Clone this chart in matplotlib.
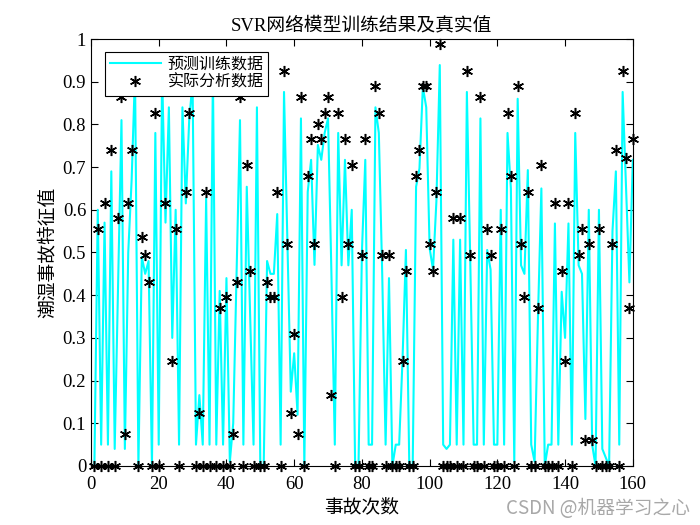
import numpy as np
import matplotlib
matplotlib.use("Agg")
import matplotlib.pyplot as plt

plt.rcParams['font.family'] = ['Liberation Serif', 'Noto Sans CJK SC']
plt.rcParams['axes.unicode_minus'] = False

# 实际分析数据 (sample 1..160)
actual = [
    0, 0.556, 0, 0.617, 0, 0.741, 0, 0.580, 0.864, 0.074,
    0.617, 0.741, 0.926, 0, 0.536, 0.494, 0.432, 0, 0.827, 0,
    0.926, 0.617, 0.926, 0.247, 0.556, 0, 0.926, 0.642, 0.827, 0.926,
    0, 0.123, 0, 0.642, 0, 0.926, 0, 0.370, 0, 0.395,
    0, 0.074, 0.432, 0.864, 0, 0.704, 0.457, 0, 0.926, 0,
    0, 0.432, 0.395, 0.395, 0.642, 0, 0.926, 0.519, 0.123, 0.309,
    0.074, 0.864, 0, 0.679, 0.765, 0.519, 0.802, 0.765, 0.827, 0.864,
    0.167, 0, 0.827, 0.395, 0.765, 0.519, 0.704, 0, 0, 0.494,
    0.765, 0, 0, 0.889, 0.827, 0.494, 0, 0.494, 0, 0,
    0, 0.247, 0.457, 0, 0, 0.679, 0.741, 0.889, 0.889, 0.519,
    0.457, 0.642, 0.988, 0, 0, 0, 0.580, 0, 0.580, 0,
    0.926, 0.494, 0, 0, 0.864, 0, 0.556, 0.494, 0, 0,
    0.556, 0, 0.827, 0.679, 0, 0.889, 0.519, 0.395, 0.642, 0,
    0, 0.370, 0.704, 0, 0, 0, 0.617, 0, 0.457, 0.247,
    0.617, 0, 0.827, 0.494, 0.556, 0.062, 0.519, 0.062, 0, 0.556,
    0, 0, 0, 0.519, 0.741, 0, 0.926, 0.722, 0.370, 0.765,
]

# 预测训练数据
predicted = [
    0.0, 0.60, 0.05, 0.57, 0.05, 0.69, 0.04, 0.42, 0.81, 0.04,
    0.50, 0.67, 0.92, 0.0, 0.49, 0.45, 0.48, 0.0, 0.78, 0.05,
    0.92, 0.57, 0.84, 0.30, 0.60, 0.05, 0.84, 0.615, 0.81, 0.90,
    0.05, 0.166, 0.05, 0.627, 0.05, 0.92, 0.05, 0.41, 0.05, 0.44,
    0.01, 0.10, 0.45, 0.81, 0.05, 0.654, 0.35, 0.05, 0.84, 0.0,
    0.0, 0.48, 0.45, 0.45, 0.59, 0.05, 0.876, 0.52, 0.174, 0.264,
    0.12, 0.814, 0.0, 0.642, 0.717, 0.471, 0.752, 0.717, 0.78, 0.814,
    0.45, 0.05, 0.78, 0.47, 0.717, 0.47, 0.60, 0.0, 0.0, 0.50,
    0.717, 0.05, 0.05, 0.84, 0.78, 0.45, 0.05, 0.44, 0.0, 0.05,
    0.05, 0.25, 0.506, 0.0, 0.0, 0.654, 0.697, 0.888, 0.84, 0.51,
    0.46, 0.62, 0.939, 0.05, 0.04, 0.05, 0.53, 0.05, 0.53, 0.05,
    0.876, 0.48, 0.05, 0.05, 0.814, 0.05, 0.506, 0.46, 0.05, 0.05,
    0.60, 0.05, 0.78, 0.65, 0.01, 0.86, 0.47, 0.45, 0.693, 0.05,
    0.01, 0.35, 0.65, 0.0, 0.05, 0.05, 0.568, 0.05, 0.408, 0.30,
    0.568, 0.05, 0.78, 0.47, 0.45, 0.11, 0.60, 0.05, 0.0, 0.60,
    0.04, 0.02, 0.0, 0.55, 0.69, 0.05, 0.876, 0.65, 0.43, 0.717,
]

x = np.arange(1, len(actual) + 1)

fig = plt.figure(figsize=(7, 5.25), dpi=100)
ax = fig.add_axes([0.13, 0.1124, 0.774, 0.8133])

ax.plot(x, predicted, color='#00FFFF', lw=1.5, label='预测训练数据')
ax.plot(x, actual, ls='none', marker=(6, 2, 0), ms=8, mew=1.1,
        color='black', label='实际分析数据', clip_on=False)

ax.set_xlim(0, 160)
ax.set_ylim(0, 1)
ax.set_xticks(np.arange(0, 161, 20))
ax.set_yticks(np.arange(0, 1.01, 0.1))
ax.set_yticklabels(['0', '0.1', '0.2', '0.3', '0.4', '0.5', '0.6', '0.7', '0.8', '0.9', '1'])
ax.tick_params(direction='in', top=True, right=True, labelsize=13.5, length=5, width=0.8)
ax.tick_params(axis='x', pad=7)
for s in ax.spines.values():
    s.set_linewidth(0.8)

ax.set_title('SVR网络模型训练结果及真实值', fontsize=13.5)
ax.set_xlabel('事故次数', fontsize=13.5, labelpad=4)
ax.set_ylabel('潮湿事故特征值', fontsize=13.5)

leg = ax.legend(loc='upper left', bbox_to_anchor=(0.026, 0.97), borderaxespad=0,
                fontsize=11.5, fancybox=False, edgecolor='black', framealpha=1,
                borderpad=0.3, labelspacing=0.15, handlelength=3.2, handletextpad=0.4)
leg.get_frame().set_linewidth(0.8)
leg.set_zorder(5)

fig.text(0.985, 0.012, 'CSDN @机器学习之心', ha='right', va='bottom',
         fontsize=13.5, color='#a8a8a8', family=['Noto Sans CJK SC'])

fig.savefig('out.png', dpi=100)
